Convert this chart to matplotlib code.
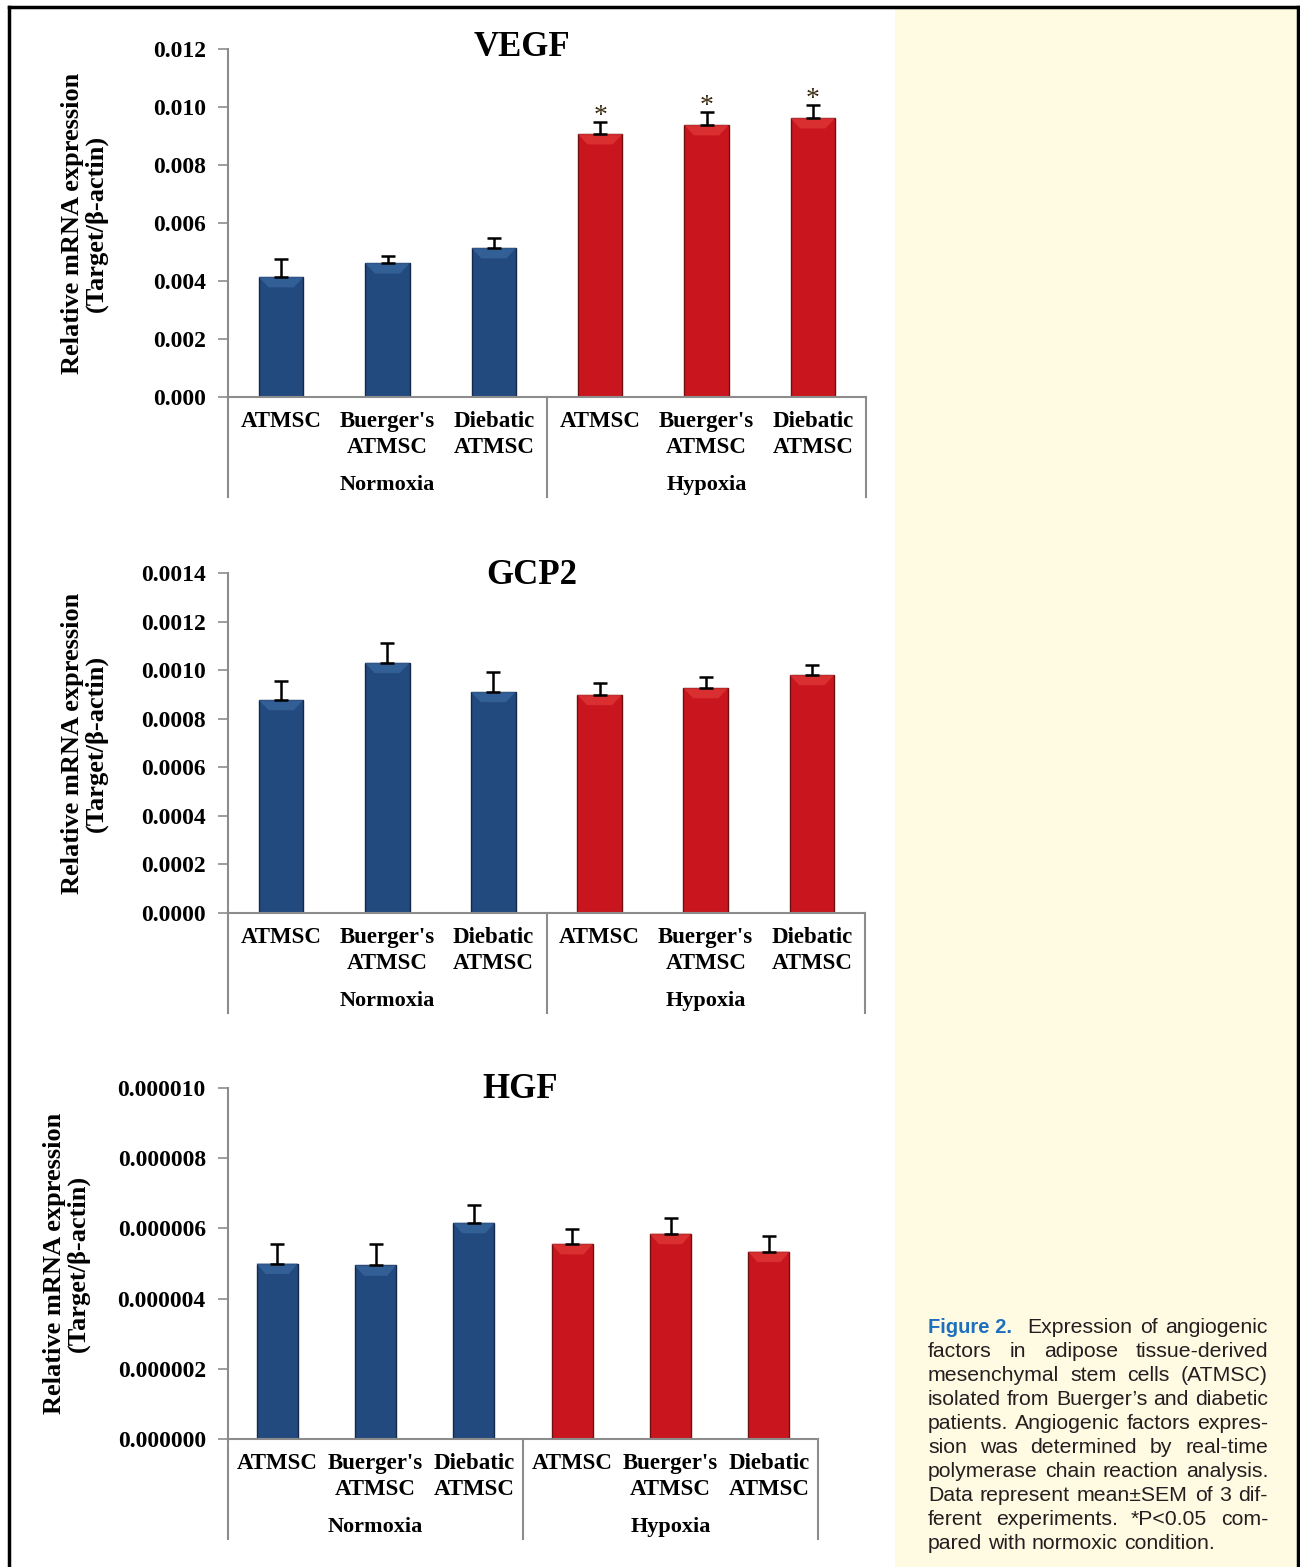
import numpy as np
import matplotlib
matplotlib.use("Agg")
import matplotlib.pyplot as plt
from matplotlib.ticker import FormatStrFormatter
from matplotlib.patches import Polygon, Rectangle

# categories / groups
categories = ["ATMSC", "Buerger's\nATMSC", "Diebatic\nATMSC",
              "ATMSC", "Buerger's\nATMSC", "Diebatic\nATMSC"]
groups = ["Normoxia", "Hypoxia"]

# VEGF
vegf_mean = [0.00414, 0.00462, 0.00514, 0.00907, 0.00938, 0.00962]
vegf_sem = [0.00062, 0.00024, 0.00034, 0.00041, 0.00045, 0.00045]
vegf_sig = [False, False, False, True, True, True]

# GCP2
gcp2_mean = [0.000877, 0.00103, 0.000910, 0.000898, 0.000926, 0.000980]
gcp2_sem = [0.000080, 0.000082, 0.000082, 0.000050, 0.000046, 0.000042]

# HGF
hgf_mean = [5.00e-6, 4.95e-6, 6.16e-6, 5.56e-6, 5.85e-6, 5.34e-6]
hgf_sem = [0.56e-6, 0.61e-6, 0.50e-6, 0.43e-6, 0.45e-6, 0.45e-6]

caption_lines = [
    "Expression of angiogenic",
    "factors in adipose tissue-derived",
    "mesenchymal stem cells (ATMSC)",
    "isolated from Buerger\u2019s and diabetic",
    "patients. Angiogenic factors expres-",
    "sion was determined by real-time",
    "polymerase chain reaction analysis.",
    "Data represent mean\u00b1SEM of 3 dif-",
    "ferent experiments. *P<0.05 com-",
    "pared with normoxic condition.",
]

W, H = 1300, 1567
fig = plt.figure(figsize=(W / 100, H / 100), dpi=100)
SERIF = "Liberation Serif"
GRAY = "#8c8c8c"
BLUE, BLUE_E, BLUE_L = "#234a7e", "#14294a", "#3a68a3"
RED, RED_E, RED_L = "#c9161e", "#6e1010", "#e23a3a"

# yellow caption panel and black frame
fig.patches.append(Rectangle((895 / W, 0), (1297 - 895) / W, 1 - 9 / H,
                             transform=fig.transFigure, facecolor="#fffbe3",
                             edgecolor="none", zorder=0))
for xs, ys in [([9 / W, 9 / W], [0, 1 - 7 / H]),
               ([9 / W, 1298 / W], [1 - 7 / H, 1 - 7 / H]),
               ([1298 / W, 1298 / W], [0, 1 - 7 / H])]:
    fig.add_artist(plt.Line2D(xs, ys, transform=fig.transFigure,
                              color="black", lw=2.5))


def panel(box, mean, sem, title, ymax, step, fmt, ylab_x, title_xy, sig=None):
    left, top, right, bottom = box
    ax = fig.add_axes([left / W, 1 - bottom / H, (right - left) / W,
                       (bottom - top) / H])
    axh = bottom - top
    x = np.arange(len(mean))
    colors = [BLUE] * 3 + [RED] * 3
    edges = [BLUE_E] * 3 + [RED_E] * 3
    lights = [BLUE_L] * 3 + [RED_L] * 3
    bars = ax.bar(x, mean, width=0.42, color=colors, edgecolor=edges,
                  linewidth=1.0, zorder=2)
    # bevel highlight on top of each bar
    for b, lc in zip(bars, lights):
        bx, bw, bh = b.get_x(), b.get_width(), b.get_height()
        d = ymax * 0.03
        ins = bw * 0.22
        ax.add_patch(Polygon([(bx, bh), (bx + bw, bh), (bx + bw - ins, bh - d),
                              (bx + ins, bh - d)], closed=True,
                             facecolor=lc, edgecolor="none", alpha=0.7,
                             zorder=2.5))
    ax.errorbar(x, mean, yerr=[np.zeros(len(sem)), sem], fmt="none",
                ecolor="black", elinewidth=1.8, capsize=5, capthick=1.8,
                zorder=3)
    if sig is not None:
        for xi, m, s, flag in zip(x, mean, sem, sig):
            if flag:
                ax.annotate("*", xy=(xi, m + s), xytext=(0, -5),
                            textcoords="offset points", ha="center",
                            va="bottom", fontsize=20, family=SERIF,
                            color="#3a2a10")
    ax.set_xlim(-0.5, 5.5)
    ax.set_ylim(0, ymax)
    ax.set_yticks(np.arange(0, ymax + step / 2, step))
    ax.yaxis.set_major_formatter(FormatStrFormatter(fmt))
    for s in ["top", "right"]:
        ax.spines[s].set_visible(False)
    for s in ["left", "bottom"]:
        ax.spines[s].set_color(GRAY)
        ax.spines[s].set_linewidth(1.5)
    ax.tick_params(axis="y", direction="out", length=7, width=1.2,
                   color=GRAY, pad=9, labelsize=17)
    ax.tick_params(axis="x", length=0, pad=10, labelsize=16.5)
    ax.set_xticks(x)
    ax.set_xticklabels(categories, linespacing=1.3)
    for lab in ax.get_xticklabels() + ax.get_yticklabels():
        lab.set_family(SERIF)
        lab.set_fontweight("bold")
    # group separators and group labels
    depth = 100 / axh
    for xs in [-0.5, 2.5, 5.5]:
        ax.plot([xs, xs], [0, -depth], transform=ax.get_xaxis_transform(),
                color=GRAY, lw=1.5, clip_on=False)
    for gi, g in enumerate(groups):
        ax.text(1 + 3 * gi, -88 / axh, g, transform=ax.get_xaxis_transform(),
                ha="center", va="center", fontsize=16, family=SERIF,
                fontweight="bold")
    ax.set_ylabel("Relative mRNA expression\n(Target/\u03b2-actin)",
                  fontsize=19, family=SERIF, fontweight="bold", linespacing=1.05)
    ax.yaxis.set_label_coords((ylab_x - left) / (right - left), 0.5)
    fig.text(title_xy[0] / W, 1 - title_xy[1] / H, title, ha="center",
             va="center", fontsize=25, family=SERIF, fontweight="bold")
    return ax


panel((228, 49, 866, 397), vegf_mean, vegf_sem, "VEGF", 0.012, 0.002,
      "%.3f", 108, (522, 47), sig=vegf_sig)
panel((228, 573, 865, 913), gcp2_mean, gcp2_sem, "GCP2", 0.0014, 0.0002,
      "%.4f", 108, (532, 575))
panel((228, 1088, 818, 1439), hgf_mean, hgf_sem, "HGF", 0.000010, 0.000002,
      "%.6f", 90, (520, 1090))

# caption, justified
renderer = fig.canvas.get_renderer()
cap_left, cap_right = 928, 1268
cap_size = 15.3
cap_font = "Liberation Sans"
y0, dy = 1333, 24


def text_width(s, **kw):
    t = fig.text(0, 0, s, **kw)
    w = t.get_window_extent(renderer).width
    t.remove()
    return w


fig.text(cap_left / W, 1 - y0 / H, "Figure 2.", ha="left",
         va="baseline", fontsize=14.5, family="Liberation Sans",
         fontweight="bold", color="#1e6fbd")
first_start = 1027

for i, line in enumerate(caption_lines):
    yb = 1 - (y0 + i * dy) / H
    start = first_start if i == 0 else cap_left
    words = line.split(" ")
    ws = [text_width(w_, fontsize=cap_size, family=cap_font) for w_ in words]
    if i == len(caption_lines) - 1 or len(words) == 1:
        gap = text_width("a b", fontsize=cap_size, family=cap_font) - \
            text_width("ab", fontsize=cap_size, family=cap_font)
    else:
        gap = (cap_right - start - sum(ws)) / (len(words) - 1)
    xpos = start
    for w_, wpx in zip(words, ws):
        fig.text(xpos / W, yb, w_, ha="left", va="baseline",
                 fontsize=cap_size, family=cap_font, color="#231f20")
        xpos += wpx + gap

fig.savefig("out.png", dpi=100, facecolor="white")
